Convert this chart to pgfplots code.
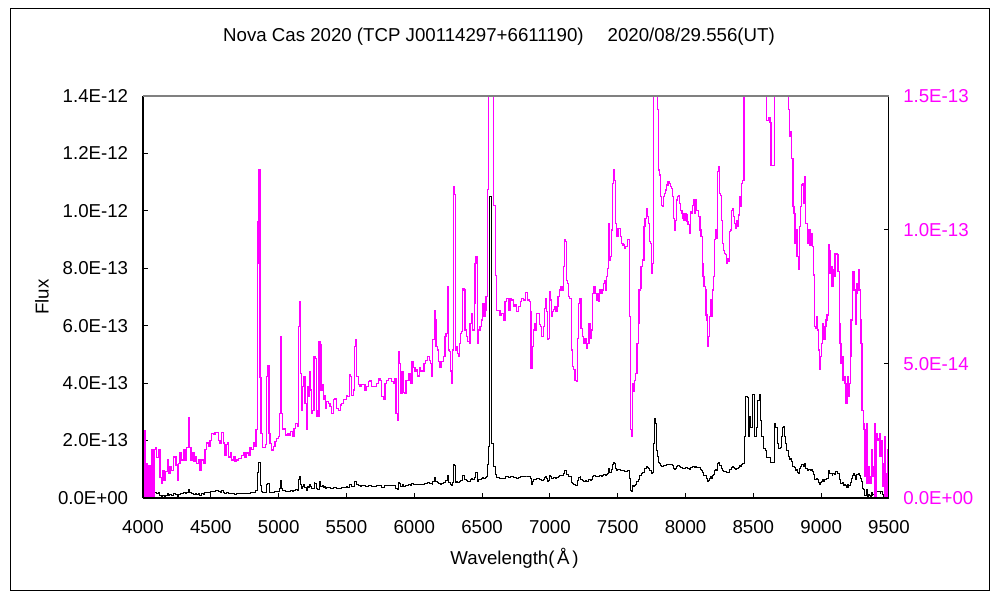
\documentclass[border=0pt]{standalone}
\usepackage{fontspec}
\setmainfont{Liberation Sans}
\usepackage{pgfplots}
\usepackage{pgfplotstable}
\pgfplotsset{compat=1.18}

% spectrum, flux in units of 1E-14
\pgfplotstableread{
lam f
4000 1.4
4008 2.5
4015 0
4022 1.3
4030 0
4039 1.2
4052 0
4062 1.8
4071 0
4081 1.8
4091 1.9
4101 1.5
4113 1.8
4125 0.75
4135 0.56
4145 1.04
4155 0.65
4165 1.0
4179 1.42
4189 0.9
4199 1.16
4211 1.04
4224 1.53
4233 1.53
4243 1.23
4253 0.65
4263 1.3
4273 1.68
4285 1.42
4297 1.8
4310 1.42
4322 1.87
4334 3.0
4344 1.87
4354 1.42
4364 1.68
4376 1.36
4386 1.53
4396 1.3
4408 1.42
4420 1.04
4433 1.42
4445 1.3
4457 1.8
4469 2.05
4482 1.93
4494 2.16
4506 2.42
4519 2.36
4531 2.46
4543 2.46
4556 2.16
4568 2.05
4580 2.46
4592 2.05
4602 1.6
4612 2.0
4622 2.05
4632 1.53
4642 1.7
4654 1.42
4666 1.53
4678 1.36
4691 1.42
4703 1.48
4715 1.48
4728 1.6
4740 1.68
4752 1.53
4765 1.68
4777 1.6
4789 1.87
4801 1.8
4814 2.05
4826 1.93
4833 2.54
4841 8.77
4848 10.3
4855 12.24
4863 4.5
4870 2.42
4882 1.87
4895 1.87
4905 2.0
4912 4.53
4919 4.96
4929 2.42
4936 2.04
4949 1.79
4961 1.91
4973 2.10
4986 2.23
4998 2.29
5005 3.16
5013 6.02
5020 3.16
5027 2.54
5040 2.60
5052 2.35
5064 2.41
5076 2.35
5089 2.47
5101 2.29
5113 2.60
5126 2.79
5138 2.66
5145 6.39
5155 7.33
5162 4.65
5170 3.28
5177 4.15
5185 4.53
5194 3.53
5204 2.54
5212 4.15
5219 3.78
5226 4.71
5234 4.03
5241 3.16
5251 3.28
5261 5.27
5268 5.21
5276 3.28
5283 3.03
5293 3.03
5298 5.83
5305 5.71
5312 4.03
5322 4.22
5330 3.66
5337 3.84
5344 3.35
5354 3.59
5366 3.53
5379 3.41
5391 3.16
5403 3.66
5416 3.72
5428 3.35
5440 3.28
5453 3.47
5465 3.53
5477 3.66
5489 3.66
5502 3.84
5509 3.78
5521 4.59
5531 4.53
5539 3.84
5551 4.03
5558 5.65
5568 5.90
5575 4.53
5588 4.22
5600 4.15
5612 4.22
5625 4.22
5637 4.03
5649 4.15
5661 4.34
5674 4.40
5686 4.15
5698 4.15
5711 4.15
5723 4.28
5735 4.47
5747 4.40
5760 3.78
5772 3.66
5784 4.28
5797 4.40
5809 4.47
5821 4.47
5833 4.34
5846 4.28
5858 4.47
5865 3.16
5875 2.91
5883 5.46
5890 5.02
5900 3.90
5910 4.71
5919 3.93
5932 3.90
5939 4.40
5949 4.40
5961 4.65
5974 4.28
5983 5.08
5993 4.86
6005 4.74
6018 4.80
6025 4.55
6037 4.86
6047 4.74
6060 4.71
6072 5.02
6084 5.14
6096 5.27
6111 5.14
6121 5.02
6131 4.55
6136 5.90
6146 7.01
6153 6.64
6160 5.65
6170 5.52
6180 5.09
6190 4.86
6202 5.09
6214 5.27
6227 6.02
6234 6.14
6244 7.88
6251 5.52
6259 5.46
6268 4.74
6276 4.28
6283 5.52
6288 11.62
6298 11.31
6305 5.52
6313 5.65
6320 5.40
6327 5.27
6335 5.77
6342 6.14
6350 6.21
6357 7.82
6367 7.76
6374 6.27
6386 6.02
6394 5.83
6404 5.77
6411 6.52
6421 6.89
6431 6.27
6441 7.27
6448 8.76
6455 9.00
6465 5.77
6475 6.27
6485 6.39
6495 6.64
6504 7.27
6514 6.77
6522 7.01
6529 7.52
6539 11.5
6546 17.9
6551 87.5
6558 105
6566 76
6573 19
6583 10.9
6590 10.9
6598 8.3
6608 7.0
6620 7.0
6632 6.83
6645 6.89
6657 6.64
6669 7.33
6681 7.45
6694 7.01
6706 7.45
6718 7.39
6731 7.14
6743 7.20
6755 6.95
6767 7.14
6780 7.33
6792 7.45
6804 7.39
6817 7.66
6829 7.66
6836 7.39
6849 7.33
6856 6.95
6861 4.84
6868 5.65
6878 6.27
6885 6.52
6895 6.27
6903 6.89
6915 6.89
6922 6.46
6930 6.39
6939 6.02
6952 6.39
6959 7.08
6966 7.45
6974 6.95
6981 5.90
6991 5.96
6998 7.70
7006 7.39
7013 6.77
7021 6.95
7028 7.02
7035 7.14
7043 6.95
7052 7.14
7060 7.51
7070 7.76
7080 7.88
7089 7.76
7099 8.63
7107 9.63
7116 9.57
7124 8.13
7131 8.01
7139 7.51
7146 7.45
7156 5.52
7166 4.90
7175 4.78
7185 4.40
7195 4.34
7202 5.96
7212 7.26
7222 7.45
7229 6.33
7239 6.02
7249 5.77
7259 5.96
7269 5.58
7279 5.77
7288 6.52
7298 5.96
7308 6.27
7316 7.64
7325 7.88
7333 7.64
7343 7.39
7350 7.64
7360 7.33
7367 7.76
7377 7.64
7387 7.76
7394 8.01
7402 8.13
7409 7.76
7419 8.26
7426 8.57
7433 10.25
7441 8.88
7448 9.0
7456 10.0
7463 11.74
7470 12.24
7478 11.86
7485 10.25
7492 9.75
7502 10.06
7512 10.06
7520 9.75
7529 9.50
7539 9.44
7549 9.32
7559 9.38
7569 9.63
7579 9.63
7586 6.77
7593 2.54
7603 2.29
7610 4.28
7618 3.97
7625 4.40
7633 4.65
7642 5.77
7650 6.52
7657 7.76
7665 7.82
7672 8.63
7684 8.88
7694 10.12
7701 10.43
7709 10.81
7718 10.50
7726 10.25
7733 9.57
7741 9.50
7748 8.45
7753 8.38
7758 8.76
7763 19
7773 27.8
7780 26
7787 16.7
7795 14.5
7800 12.24
7807 12.05
7814 11.24
7822 10.93
7829 10.87
7836 11.24
7844 11.36
7851 11.49
7861 11.68
7871 11.80
7881 11.74
7888 11.61
7895 11.55
7905 11.24
7913 10.43
7920 10.0
7927 10.37
7935 11.12
7942 11.24
7950 11.30
7957 10.99
7964 10.74
7974 10.62
7981 10.43
7989 10.37
7996 10.62
8004 10.56
8011 10.31
8018 10.19
8028 9.88
8036 10.68
8043 10.62
8050 10.93
8058 11.12
8065 10.62
8075 11.12
8082 10.74
8090 10.74
8097 10.50
8107 10.0
8114 9.75
8122 8.76
8129 8.26
8136 7.88
8144 7.76
8151 6.83
8158 6.64
8163 5.65
8171 6.02
8178 6.77
8186 7.39
8193 6.77
8200 7.76
8205 8.26
8213 9.63
8220 10.0
8227 9.69
8235 12.18
8242 12.37
8249 11.36
8257 11.30
8264 10.37
8272 9.50
8279 9.25
8286 9.13
8294 9.07
8301 8.76
8308 8.94
8316 8.82
8323 9.94
8331 10.0
8338 10.74
8345 10.81
8353 10.50
8360 10.25
8367 10.06
8375 10.37
8382 10.12
8390 10.56
8397 11.24
8404 10.87
8412 11.74
8419 11.86
8431 21.3
8441 35.3
8456 35.0
8461 21.3
8471 28.3
8480 24.4
8490 35.9
8505 35.9
8512 21.3
8522 24.4
8532 34.1
8544 35.9
8549 27
8562 21.3
8574 17.3
8586 16.5
8598 14.1
8611 14.2
8623 14.0
8630 12.4
8646 12.4
8653 26
8665 24.4
8677 19
8687 17.3
8697 17.6
8704 21.3
8714 24.4
8721 24.9
8729 21.3
8739 19
8746 16.7
8758 14.48
8765 13.48
8773 13.67
8783 12.67
8792 10.87
8800 10.62
8807 9.50
8815 10.0
8822 9.0
8832 8.51
8839 10.12
8847 10.87
8856 11.68
8864 11.74
8871 10.99
8879 11.99
8886 10.25
8893 10.25
8901 9.50
8910 10.0
8918 9.44
8925 9.88
8933 9.38
8942 8.32
8950 6.39
8960 6.33
8967 6.77
8974 6.27
8982 5.52
8989 4.78
8996 5.27
9004 5.77
9011 6.52
9019 5.90
9028 6.39
9036 6.64
9043 6.83
9051 9.44
9058 9.25
9065 8.38
9073 8.63
9080 7.88
9087 8.51
9095 8.26
9102 9.13
9110 9.13
9117 9.07
9124 8.44
9132 6.52
9139 5.77
9146 5.02
9154 5.27
9161 4.40
9169 4.53
9176 4.28
9183 3.53
9191 4.53
9198 3.78
9205 4.28
9213 5.27
9220 6.64
9228 7.76
9235 8.44
9242 7.76
9250 6.46
9257 7.64
9264 8.01
9272 8.51
9279 7.76
9287 6.64
9294 5.77
9301 3.28
9309 2.79
9316 2.54
9323 0.80
9331 2.79
9338 0.55
9346 1.17
9353 0.80
9360 0.55
9368 1.79
9375 0.80
9382 1.17
9390 2.79
9397 0
9405 2.41
9412 2.16
9419 2.22
9427 2.41
9434 1.55
9441 2.16
9449 1.30
9456 0.42
9464 2.29
9471 0
9478 0.93
9486 0
9493 1.79
9500 1.17
}\spec

\definecolor{mag}{HTML}{FF00FF}
\definecolor{topgray}{HTML}{808080}

\begin{document}
\begin{tikzpicture}[x=0.75pt,y=0.75pt]
\fontsize{14}{17}\selectfont
\useasboundingbox (0,0) rectangle (1000,600);
\draw[black, line width=0.75pt] (10,9) rectangle (989,591);

\pgfplotsset{
  every axis/.append style={
    at={(107.25pt,76.5pt)}, anchor=south west,
    scale only axis, width=559.5pt, height=301.5pt,
    xmin=4000, xmax=9500,
    tick align=inside, major tick length=3.75pt,
    tick style={black, line width=0.75pt},
    axis line style={draw=none},
    scaled ticks=false,
    every tick label/.append style={font=\fontsize{14}{17}\selectfont},
  }
}

\begin{axis}[
  name=left,
  ymin=0, ymax=140,
  xtick={4000,4500,5000,5500,6000,6500,7000,7500,8000,8500,9000,9500},
  xticklabels={4000,4500,5000,5500,6000,6500,7000,7500,8000,8500,9000,9500},
  ytick={0,20,40,60,80,100,120,140},
  yticklabels={0.0E+00,2.0E-13,4.0E-13,6.0E-13,8.0E-13,1.0E-12,1.2E-12,1.4E-12},
  xtick pos=bottom, ytick pos=left,
  xticklabel style={anchor=north, inner sep=0pt, yshift=-17pt},
  yticklabel style={anchor=east, inner sep=0pt, xshift=-11pt},
]
\addplot[black, line width=0.75pt, const plot] table[x=lam, y=f] {\spec};
\end{axis}

\begin{axis}[
  name=right,
  ymin=0, ymax=15,
  hide x axis,
  ytick={0,5,10,15},
  yticklabels={0.0E+00,5.0E-14,1.0E-13,1.5E-13},
  ytick pos=right, yticklabel pos=right,
  yticklabel style={anchor=west, inner sep=0pt, xshift=10.5pt, text=mag},
]
\addplot[mag, line width=0.85pt, const plot] table[x=lam, y=f] {\spec};
\end{axis}

\draw[black, line width=1.5pt] (right.south west) -- (right.north west);
\draw[black, line width=1.5pt] (right.south west) -- (right.south east);
\draw[black, line width=0.75pt] (right.south east) -- (right.north east);
\draw[topgray, line width=1.5pt] (right.north west) -- (right.north east);

\node at (499,563) {Nova Cas 2020 (TCP J00114297+6611190)\hspace{18pt}2020/08/29.556(UT)};
\node at (514.5,42) {Wavelength(\hspace{2pt}Å\hspace{2pt})};
\node[rotate=90] at (42,303) {Flux};
\end{tikzpicture}
\end{document}
